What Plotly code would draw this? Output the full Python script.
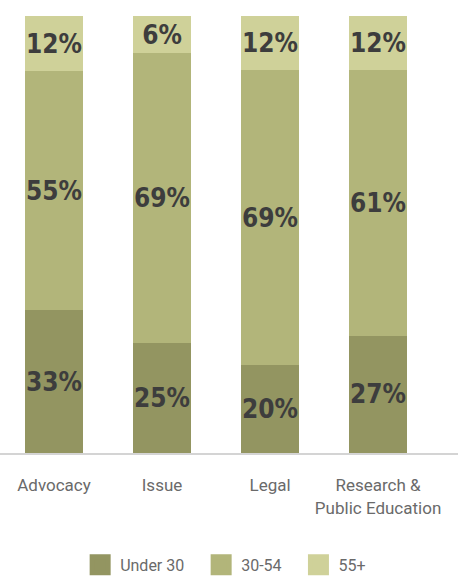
import plotly.graph_objects as go

categories = ["Advocacy", "Issue", "Legal", "Research &<br>Public Education"]
series_names = ["Under 30", "30-54", "55+"]
# segment heights as drawn (share of each bar, %)
under_30 = [32.7, 25.2, 20.1, 26.8]
age_30_54 = [54.7, 66.3, 67.5, 60.9]
age_55_plus = [12.6, 8.5, 12.4, 12.4]
# data labels as printed on the bars
under_30_labels = ["33%", "25%", "20%", "27%"]
age_30_54_labels = ["55%", "69%", "69%", "61%"]
age_55_plus_labels = ["12%", "6%", "12%", "12%"]
colors = ["#939561", "#b2b57a", "#cfd199"]

PAD = "\u00a0\u00a0\u00a0"

fig = go.Figure()
for name, vals, labels, col in zip(series_names,
                                   [under_30, age_30_54, age_55_plus],
                                   [under_30_labels, age_30_54_labels, age_55_plus_labels],
                                   colors):
    fig.add_trace(go.Bar(
        x=categories, y=vals, name=name, marker=dict(color=col, line=dict(width=0)),
        text=labels, textposition="inside", insidetextanchor="middle",
        textangle=0, constraintext="none",
        textfont=dict(family="DejaVu Sans Condensed, Roboto", size=26, color="#3d3d3d", weight="bold"),
        showlegend=False, hoverinfo="skip",
    ))
    fig.add_trace(go.Scatter(
        x=[None], y=[None], mode="markers", name=name + PAD,
        marker=dict(symbol="square", size=16, color=col, line=dict(color=col, width=5)),
        showlegend=True,
    ))

fig.update_layout(
    width=458, height=583,
    margin=dict(l=0, r=0, t=16, b=130),
    barmode="stack", bargap=0.46,
    plot_bgcolor="white", paper_bgcolor="white",
    font=dict(family="Roboto", color="#6a6a6a"),
    xaxis=dict(range=[-0.5, 3.74], showgrid=False, ticks="", showline=True,
               linecolor="#d4d4d4", linewidth=2, tickfont=dict(size=17, color="#6a6a6a"),
               ticklabelstandoff=16, fixedrange=True),
    yaxis=dict(range=[0, 100], visible=False, fixedrange=True),
    legend=dict(orientation="h", x=0.175, xanchor="left", y=-0.256, yanchor="middle",
                traceorder="normal",
                font=dict(size=16, color="#6a6a6a"), itemclick=False, itemdoubleclick=False),
)

fig.write_html("out.html", config={"displayModeBar": False},
               post_script="document.body.style.margin='0px';")
